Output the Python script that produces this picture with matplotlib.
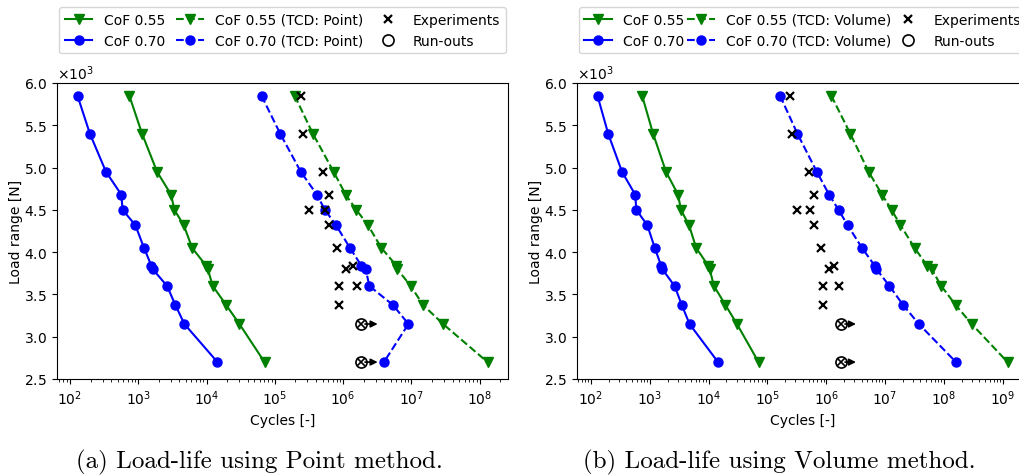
import numpy as np
import matplotlib
matplotlib.use("Agg")
import matplotlib.pyplot as plt

# load levels [N]
loads = [5850, 5400, 4950, 4680, 4500, 4320, 4050, 3840, 3800, 3600, 3375, 3150, 2700]

# model predictions (cycles)
cof055 = [741, 1138, 1888, 3027, 3381, 4634, 6152, 9862, 10420, 12330, 19360, 30340, 70630]
cof070 = [129, 196, 337, 565, 590, 906, 1216, 1556, 1626, 2643, 3499, 4742, 14450]

cof055_point = [195e3, 361e3, 726e3, 1.09e6, 1.56e6, 2.31e6, 3.63e6, 6.03e6, 6.19e6,
                9.77e6, 14.8e6, 29.1e6, 130e6]
cof070_point = [63.8e3, 120e3, 240e3, 413e3, 541e3, 785e3, 1.26e6, 1.85e6, 2.14e6,
                2.42e6, 5.37e6, 9.04e6, 3.96e6]

cof055_vol = [1.22e6, 2.57e6, 5.27e6, 8.9e6, 12.9e6, 18.3e6, 31.8e6, 52.1e6, 61.9e6,
              90.4e6, 159e6, 298e6, 1.21e9]
cof070_vol = [164e3, 324e3, 692e3, 1.12e6, 1.62e6, 2.31e6, 4.06e6, 6.68e6, 7.13e6,
              11.9e6, 20.3e6, 37.6e6, 161e6]

# experiments
exp_load = [5850, 5400, 4950, 4680, 4500, 4500, 4320, 4050, 3840, 3800, 3600, 3600, 3375]
exp_cycles = [240e3, 262e3, 510e3, 620e3, 320e3, 540e3, 620e3, 820e3, 1.38e6, 1.10e6,
              880e3, 1.62e6, 880e3]
runout_load = [3150, 2700]
runout_cycles = [1.8e6, 1.8e6]

panels = [
    ("Point", cof055_point, cof070_point, 0.8, "(a) Load-life using Point method."),
    ("Volume", cof055_vol, cof070_vol, 0.2, "(b) Load-life using Volume method."),
]

fig = plt.figure(figsize=(10.19, 4.77), dpi=100)
lefts = [57 / 1019, 577 / 1019]

for (name, g_tcd, b_tcd, colsp, caption), x0 in zip(panels, lefts):
    ax = fig.add_axes([x0, 1 - 380 / 477, 451 / 1019, 296 / 477])
    ax.plot(cof055, loads, '-v', color='green', ms=6.5, lw=1.5, label='CoF 0.55')
    ax.plot(cof070, loads, '-o', color='blue', ms=6.5, lw=1.5, label='CoF 0.70')
    ax.plot(g_tcd, loads, '--v', color='green', ms=6.5, lw=1.5,
            label='CoF 0.55 (TCD: %s)' % name)
    ax.plot(b_tcd, loads, '--o', color='blue', ms=6.5, lw=1.5,
            label='CoF 0.70 (TCD: %s)' % name)
    ax.plot(exp_cycles, exp_load, 'x', color='k', ms=6, mew=1.6, label='Experiments')
    ax.plot(runout_cycles, runout_load, 'o', mfc='none', mec='k', ms=8, mew=1.2,
            label='Run-outs')
    ax.plot(runout_cycles, runout_load, 'x', color='k', ms=6, mew=1.2)
    for n, l in zip(runout_cycles, runout_load):
        ax.annotate('', xy=(n * 1.78, l), xytext=(n * 1.16, l),
                    arrowprops=dict(arrowstyle='-|>', color='k', lw=1.2,
                                    mutation_scale=10, shrinkA=0, shrinkB=0))
    ax.set_xscale('log')
    ax.set_ylim(2500, 6000)
    ax.ticklabel_format(axis='y', style='sci', scilimits=(3, 3), useMathText=True)
    ax.set_xlabel('Cycles [-]', fontsize=10)
    ax.set_ylabel('Load range [N]', fontsize=10, labelpad=1)
    ax.tick_params(labelsize=10)
    ax.legend(ncol=3, loc='lower center', bbox_to_anchor=(0.5, 1.1), fontsize=10,
              columnspacing=colsp, borderaxespad=0)
    fig.text(x0 + 0.2213 - 23 / 1019, 1 - 462 / 477, caption, family='cmr10',
             fontsize=18, ha='center', va='center')

fig.savefig('out.png', dpi=100)
